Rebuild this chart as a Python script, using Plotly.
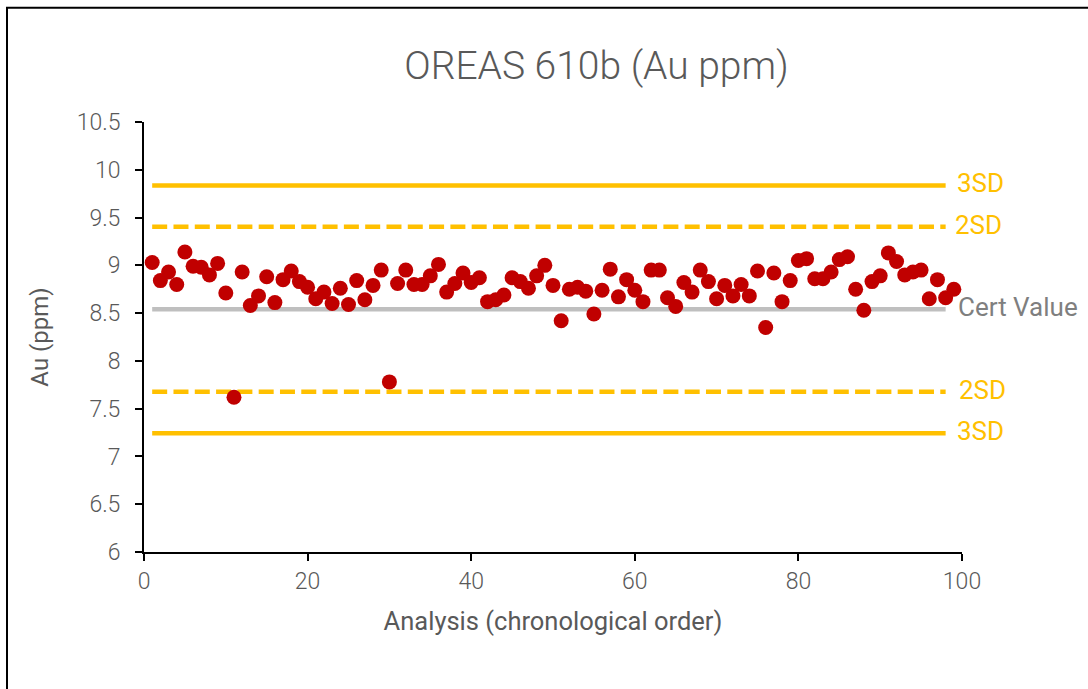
import plotly.graph_objects as go

# ---- data ----
analysis = list(range(1, 100))
au_ppm = [9.03, 8.84, 8.93, 8.80, 9.14, 8.99, 8.98, 8.90, 9.02, 8.71,
          7.62, 8.93, 8.58, 8.68, 8.88, 8.61, 8.85, 8.94, 8.83, 8.77,
          8.65, 8.72, 8.60, 8.76, 8.59, 8.84, 8.64, 8.79, 8.95, 7.78,
          8.81, 8.95, 8.80, 8.80, 8.89, 9.01, 8.72, 8.81, 8.92, 8.82,
          8.87, 8.62, 8.64, 8.69, 8.87, 8.83, 8.76, 8.89, 9.00, 8.79,
          8.42, 8.75, 8.77, 8.73, 8.49, 8.74, 8.96, 8.67, 8.85, 8.74,
          8.62, 8.95, 8.95, 8.66, 8.57, 8.82, 8.72, 8.95, 8.83, 8.65,
          8.79, 8.68, 8.80, 8.68, 8.94, 8.35, 8.92, 8.62, 8.84, 9.05,
          9.07, 8.86, 8.86, 8.93, 9.06, 9.09, 8.75, 8.53, 8.83, 8.89,
          9.13, 9.04, 8.90, 8.93, 8.95, 8.65, 8.85, 8.66, 8.75]

cert_value = 8.54
sd = 0.432
ref_line_x = [1, 98]
ref_names = ["3SD", "2SD", "Cert Value", "2SD", "3SD"]
ref_values = [cert_value + 3 * sd, cert_value + 2 * sd, cert_value,
              cert_value - 2 * sd, cert_value - 3 * sd]
ref_label_shift = [9, 7, 10, 11, 9]

title_text = "OREAS 610b (Au ppm)"
x_title = "Analysis (chronological order)"
y_title = "Au (ppm)"

# ---- styles ----
GOLD = "#FFC000"
GREY_LINE = "#BFBFBF"
TEXT = "#595959"
RED = "#C00000"
FONT = "Roboto"
LIGHT = "Roboto Light, Roboto"

W, H = 1088, 689
ML, MR, MT, MB = 144, 126, 122, 137
PW, PH = W - ML - MR, H - MT - MB

fig = go.Figure()

styles = [
    dict(color=GOLD, width=4.5, dash="solid"),
    dict(color=GOLD, width=4.5, dash="15px,6.3px"),
    dict(color=GREY_LINE, width=4.5, dash="solid"),
    dict(color=GOLD, width=4.5, dash="15px,6.3px"),
    dict(color=GOLD, width=4.5, dash="solid"),
]
label_colors = [GOLD, GOLD, "#7F7F7F", GOLD, GOLD]

for name, val, st in zip(ref_names, ref_values, styles):
    fig.add_trace(go.Scatter(
        x=ref_line_x, y=[val] * len(ref_line_x), mode="lines",
        line=st, name=name, showlegend=False, hoverinfo="skip"))

fig.add_trace(go.Scatter(
    x=analysis, y=au_ppm, mode="markers",
    marker=dict(color=RED, size=15, line=dict(width=0)),
    name="Au", showlegend=False))

for name, val, col, sh in zip(ref_names, ref_values, label_colors, ref_label_shift):
    fig.add_annotation(
        x=ref_line_x[-1], y=val, xref="x", yref="y", text=name,
        showarrow=False, xanchor="left", yanchor="middle", xshift=sh, yshift=2,
        font=dict(family=FONT, size=26, color=col))

# outer chart border
fig.add_shape(type="rect", xref="paper", yref="paper",
              x0=(7 - ML) / PW, x1=(1100 - ML) / PW,
              y0=(H - MB - 700) / PH, y1=(H - MB - 7.7) / PH,
              line=dict(color="#000000", width=2), fillcolor="rgba(0,0,0,0)",
              layer="below")

fig.update_layout(
    width=W, height=H,
    margin=dict(l=ML, r=MR, t=MT, b=MB, autoexpand=False),
    paper_bgcolor="white", plot_bgcolor="white",
    title=dict(text=title_text, x=596.5 / W, xref="container", xanchor="center",
               y=1 - 65 / H, yref="container", yanchor="middle",
               font=dict(family=FONT, size=39, color=TEXT, weight=300)),
    font=dict(family=FONT, color=TEXT),
)

fig.update_xaxes(
    range=[0, 100], dtick=20, tick0=0, showgrid=False, zeroline=False,
    showline=True, linecolor="#000000", linewidth=2,
    ticks="outside", ticklen=7, tickwidth=1.5, tickcolor="#000000",
    tickfont=dict(family=LIGHT, size=23, color=TEXT, weight=300),
    title=dict(text=x_title, standoff=19,
               font=dict(family=FONT, size=25.5, color=TEXT)),
)
fig.update_yaxes(
    range=[6, 10.5], dtick=0.5, tick0=6, showgrid=False, zeroline=False,
    showline=True, linecolor="#000000", linewidth=2,
    ticks="outside", ticklen=7, tickwidth=1.5, tickcolor="#000000",
    tickfont=dict(family=LIGHT, size=23, color=TEXT, weight=300),
    ticklabelstandoff=10,
    title=dict(text=y_title, standoff=21,
               font=dict(family=FONT, size=24, color=TEXT)),
)

fig.write_html("out.html", config={"displayModeBar": False},
               post_script="document.body.style.margin='0px';")
